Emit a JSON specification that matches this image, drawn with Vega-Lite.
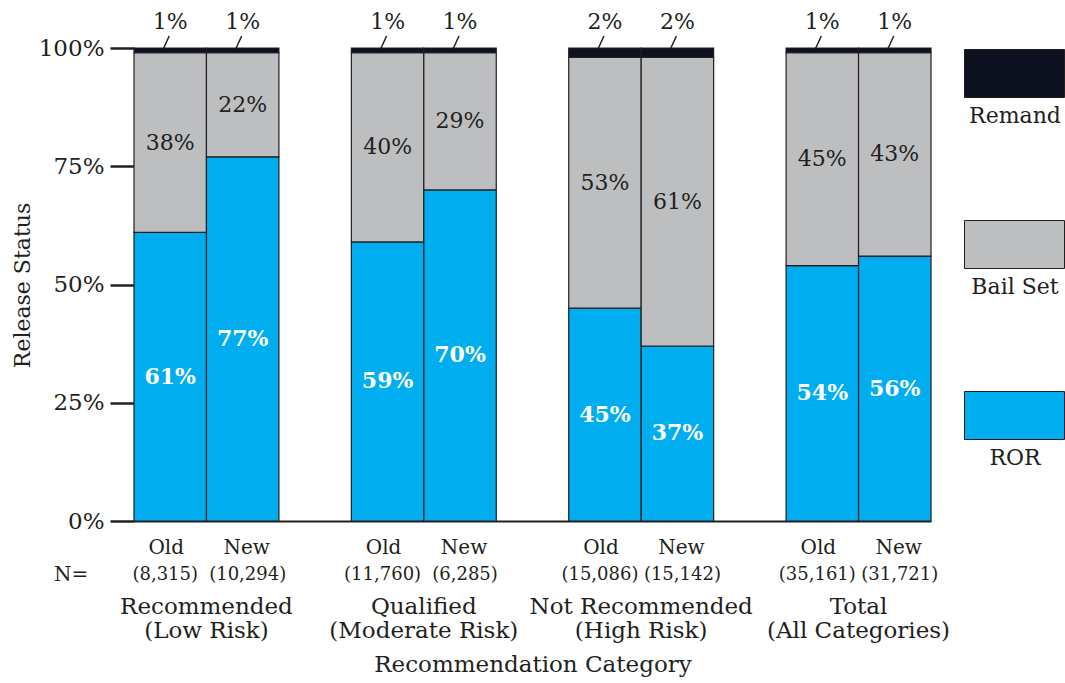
{
  "$schema": "https://vega.github.io/schema/vega-lite/v6.json",
  "width": 797,
  "height": 473,
  "autosize": {"type": "none"},
  "padding": {"left": 134, "top": 48, "right": 134, "bottom": 162},
  "background": "white",
  "config": {"font": "DejaVu Serif", "view": {"stroke": null}},
  "data": {
    "values": [
      {"bar": "R-Old", "sub": "Old", "n": "(8,315)", "group": "Recommended", "risk": "(Low Risk)", "status": "ROR", "pct": 61},
      {"bar": "R-Old", "sub": "Old", "n": "(8,315)", "group": "Recommended", "risk": "(Low Risk)", "status": "Bail Set", "pct": 38},
      {"bar": "R-Old", "sub": "Old", "n": "(8,315)", "group": "Recommended", "risk": "(Low Risk)", "status": "Remand", "pct": 1},
      {"bar": "R-New", "sub": "New", "n": "(10,294)", "group": "Recommended", "risk": "(Low Risk)", "status": "ROR", "pct": 77},
      {"bar": "R-New", "sub": "New", "n": "(10,294)", "group": "Recommended", "risk": "(Low Risk)", "status": "Bail Set", "pct": 22},
      {"bar": "R-New", "sub": "New", "n": "(10,294)", "group": "Recommended", "risk": "(Low Risk)", "status": "Remand", "pct": 1},
      {"bar": "Q-Old", "sub": "Old", "n": "(11,760)", "group": "Qualified", "risk": "(Moderate Risk)", "status": "ROR", "pct": 59},
      {"bar": "Q-Old", "sub": "Old", "n": "(11,760)", "group": "Qualified", "risk": "(Moderate Risk)", "status": "Bail Set", "pct": 40},
      {"bar": "Q-Old", "sub": "Old", "n": "(11,760)", "group": "Qualified", "risk": "(Moderate Risk)", "status": "Remand", "pct": 1},
      {"bar": "Q-New", "sub": "New", "n": "(6,285)", "group": "Qualified", "risk": "(Moderate Risk)", "status": "ROR", "pct": 70},
      {"bar": "Q-New", "sub": "New", "n": "(6,285)", "group": "Qualified", "risk": "(Moderate Risk)", "status": "Bail Set", "pct": 29},
      {"bar": "Q-New", "sub": "New", "n": "(6,285)", "group": "Qualified", "risk": "(Moderate Risk)", "status": "Remand", "pct": 1},
      {"bar": "N-Old", "sub": "Old", "n": "(15,086)", "group": "Not Recommended", "risk": "(High Risk)", "status": "ROR", "pct": 45},
      {"bar": "N-Old", "sub": "Old", "n": "(15,086)", "group": "Not Recommended", "risk": "(High Risk)", "status": "Bail Set", "pct": 53},
      {"bar": "N-Old", "sub": "Old", "n": "(15,086)", "group": "Not Recommended", "risk": "(High Risk)", "status": "Remand", "pct": 2},
      {"bar": "N-New", "sub": "New", "n": "(15,142)", "group": "Not Recommended", "risk": "(High Risk)", "status": "ROR", "pct": 37},
      {"bar": "N-New", "sub": "New", "n": "(15,142)", "group": "Not Recommended", "risk": "(High Risk)", "status": "Bail Set", "pct": 61},
      {"bar": "N-New", "sub": "New", "n": "(15,142)", "group": "Not Recommended", "risk": "(High Risk)", "status": "Remand", "pct": 2},
      {"bar": "T-Old", "sub": "Old", "n": "(35,161)", "group": "Total", "risk": "(All Categories)", "status": "ROR", "pct": 54},
      {"bar": "T-Old", "sub": "Old", "n": "(35,161)", "group": "Total", "risk": "(All Categories)", "status": "Bail Set", "pct": 45},
      {"bar": "T-Old", "sub": "Old", "n": "(35,161)", "group": "Total", "risk": "(All Categories)", "status": "Remand", "pct": 1},
      {"bar": "T-New", "sub": "New", "n": "(31,721)", "group": "Total", "risk": "(All Categories)", "status": "ROR", "pct": 56},
      {"bar": "T-New", "sub": "New", "n": "(31,721)", "group": "Total", "risk": "(All Categories)", "status": "Bail Set", "pct": 43},
      {"bar": "T-New", "sub": "New", "n": "(31,721)", "group": "Total", "risk": "(All Categories)", "status": "Remand", "pct": 1}
    ]
  },
  "transform": [
    {"stack": "pct", "groupby": ["bar"], "as": ["v0", "v1"]},
    {"calculate": "(datum.v0 + datum.v1) / 2", "as": "mid"},
    {"calculate": "datum.pct + '%'", "as": "label"}
  ],
  "encoding": {
    "x": {
      "field": "bar",
      "type": "nominal",
      "scale": {
        "domain": ["R-Old", "R-New", "gap1", "Q-Old", "Q-New", "gap2", "N-Old", "N-New", "gap3", "T-Old", "T-New"],
        "paddingInner": 0,
        "paddingOuter": 0
      },
      "axis": {
        "labels": false,
        "ticks": false,
        "domain": true,
        "domainColor": "#231F20",
        "domainWidth": 2,
        "grid": false,
        "title": "Recommendation Category",
        "titleFontSize": 23,
        "titleFontWeight": "normal",
        "titleColor": "#231F20",
        "titlePadding": 132
      }
    }
  },
  "layer": [
    {
      "mark": {"type": "bar", "stroke": "#231F20", "strokeWidth": 1.2},
      "encoding": {
        "y": {
          "field": "v0",
          "type": "quantitative",
          "scale": {"domain": [0, 100], "nice": false},
          "axis": {
            "values": [0, 25, 50, 75, 100],
            "labelExpr": "datum.value + '%'",
            "tickSize": 24,
            "tickWidth": 2.5,
            "tickColor": "#231F20",
            "domain": false,
            "grid": false,
            "labelFontSize": 23,
            "labelColor": "#231F20",
            "labelPadding": 6,
            "title": "Release Status",
            "titleFontSize": 22,
            "titleFontWeight": "normal",
            "titleColor": "#231F20",
            "titleX": -112,
            "titleY": 237,
            "titleBaseline": "middle"
          }
        },
        "y2": {"field": "v1"},
        "color": {
          "field": "status",
          "type": "nominal",
          "scale": {"domain": ["Remand", "Bail Set", "ROR"], "range": ["#0d1120", "#BCBEC0", "#00AEEF"]},
          "legend": {
            "orient": "none",
            "legendX": 830,
            "legendY": -25,
            "title": null,
            "direction": "vertical",
            "symbolType": "M-1,-0.48H1V0.48H-1Z",
            "symbolSize": 10000,
            "symbolStrokeColor": "#231F20",
            "symbolStrokeWidth": 1,
            "symbolOpacity": 1,
            "labelFontSize": 22,
            "labelColor": "#231F20",
            "labelAlign": "center",
            "labelOffset": 0,
            "rowPadding": 67,
            "padding": 0,
            "encode": {"labels": {"update": {"dx": {"value": -50}, "dy": {"value": 42}}}}
          }
        }
      }
    },
    {
      "transform": [{"filter": "datum.status === 'ROR'"}],
      "mark": {"type": "text", "fontSize": 22, "fontWeight": "bold", "fill": "white", "baseline": "middle"},
      "encoding": {"y": {"field": "mid", "type": "quantitative"}, "text": {"field": "label"}}
    },
    {
      "transform": [{"filter": "datum.status === 'Bail Set'"}],
      "mark": {"type": "text", "fontSize": 22, "fill": "#231F20", "baseline": "middle"},
      "encoding": {"y": {"field": "mid", "type": "quantitative"}, "text": {"field": "label"}}
    },
    {
      "transform": [{"filter": "datum.status === 'Remand'"}],
      "mark": {"type": "text", "fontSize": 22, "fill": "#231F20", "baseline": "middle", "dy": -26},
      "encoding": {"y": {"datum": 100}, "text": {"field": "label"}}
    },
    {
      "transform": [{"filter": "datum.status === 'Remand'"}],
      "mark": {"type": "rule", "stroke": "#231F20", "strokeWidth": 1.5, "xOffset": -7, "x2Offset": -1, "yOffset": 1, "y2Offset": -12},
      "encoding": {
        "x": {"field": "bar", "type": "nominal", "bandPosition": 0.5},
        "x2": {"field": "bar", "bandPosition": 0.5},
        "y": {"datum": 100},
        "y2": {"datum": 100}
      }
    },
    {
      "transform": [{"filter": "datum.status === 'ROR' && datum.sub === 'Old'"}],
      "mark": {"type": "text", "fontSize": 20, "fill": "#231F20", "baseline": "middle", "dy": 27, "dx": -4},
      "encoding": {"y": {"datum": 0}, "text": {"field": "sub"}}
    },
    {
      "transform": [{"filter": "datum.status === 'ROR' && datum.sub === 'New'"}],
      "mark": {"type": "text", "fontSize": 20, "fill": "#231F20", "baseline": "middle", "dy": 27, "dx": 4},
      "encoding": {"y": {"datum": 0}, "text": {"field": "sub"}}
    },
    {
      "transform": [{"filter": "datum.status === 'ROR' && datum.sub === 'Old'"}],
      "mark": {"type": "text", "fontSize": 18, "fill": "#231F20", "baseline": "middle", "dy": 54, "dx": -5},
      "encoding": {"y": {"datum": 0}, "text": {"field": "n"}}
    },
    {
      "transform": [{"filter": "datum.status === 'ROR' && datum.sub === 'New'"}],
      "mark": {"type": "text", "fontSize": 18, "fill": "#231F20", "baseline": "middle", "dy": 54, "dx": 5},
      "encoding": {"y": {"datum": 0}, "text": {"field": "n"}}
    },
    {
      "transform": [{"filter": "datum.status === 'ROR' && datum.sub === 'New'"}],
      "mark": {"type": "text", "fontSize": 23, "fill": "#231F20", "baseline": "middle", "dy": 86},
      "encoding": {"x": {"field": "bar", "type": "nominal", "bandPosition": 0}, "y": {"datum": 0}, "text": {"field": "group"}}
    },
    {
      "transform": [{"filter": "datum.status === 'ROR' && datum.sub === 'New'"}],
      "mark": {"type": "text", "fontSize": 23, "fill": "#231F20", "baseline": "middle", "dy": 110},
      "encoding": {"x": {"field": "bar", "type": "nominal", "bandPosition": 0}, "y": {"datum": 0}, "text": {"field": "risk"}}
    },
    {
      "transform": [{"filter": "datum.status === 'ROR' && datum.bar === 'R-Old'"}],
      "mark": {"type": "text", "fontSize": 20, "fill": "#231F20", "baseline": "middle", "dy": 54, "dx": -63, "text": "N="},
      "encoding": {"x": {"field": "bar", "type": "nominal", "bandPosition": 0}, "y": {"datum": 0}}
    }
  ]
}
